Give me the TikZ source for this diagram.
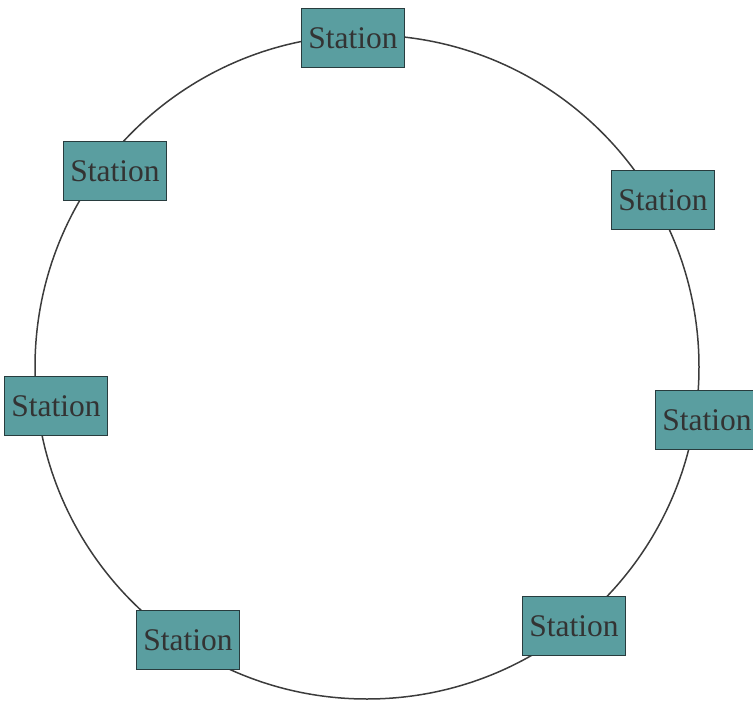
\documentclass[tikz,border=0pt]{standalone}
\usepackage{fontspec}
\setmainfont{Liberation Serif}
\definecolor{stfill}{RGB}{90,158,160}
\definecolor{stline}{RGB}{40,60,62}
\definecolor{ringcol}{RGB}{60,60,60}
\begin{document}
\begin{tikzpicture}[x=1pt,y=-1pt,
  stationbox/.style={draw=stline,line width=1.8pt,fill=stfill,minimum width=103pt,minimum height=59pt,inner sep=0pt,font=\fontsize{31.5}{32}\selectfont,text=black!80}]
\useasboundingbox (0,0) rectangle (753,701);
\coordinate (c) at (367,367);
\draw[ringcol,line width=1.5pt] (c) circle[radius=332];
\node[stationbox] (s1) at (353,38) {Station};
\node[stationbox] (s2) at (115,171) {Station};
\node[stationbox] (s3) at (663,200) {Station};
\node[stationbox] (s4) at (56,406) {Station};
\node[stationbox] (s5) at (707,420) {Station};
\node[stationbox] (s6) at (188,640) {Station};
\node[stationbox] (s7) at (574,626) {Station};
\end{tikzpicture}
\end{document}
